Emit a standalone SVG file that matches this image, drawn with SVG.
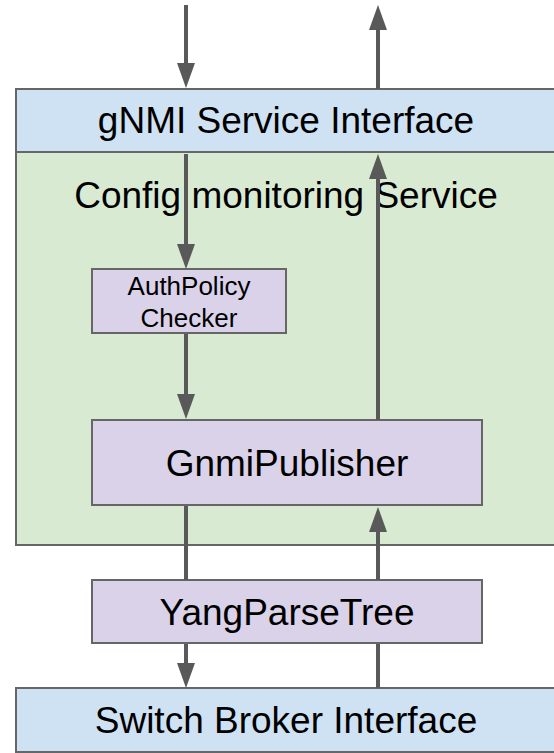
<svg xmlns="http://www.w3.org/2000/svg" width="554" height="753" viewBox="0 0 554 753">
  <style>
    .box { stroke: #666666; stroke-width: 2; }
    .blue { fill: #cfe2f3; }
    .green { fill: #d9ead3; }
    .purple { fill: #d9d2e9; }
    .lbl { font-family: "Liberation Sans", Arial, sans-serif; font-size: 37px; fill: #000000; text-anchor: middle; }
    .small { font-size: 26px; }
    .conn { stroke: #595959; stroke-width: 4; fill: none; }
    .arrow { marker-end: url(#ah); }
  </style>
  <defs>
    <marker id="ah" viewBox="0 0 25 18" markerWidth="25" markerHeight="18" refX="15" refY="9" orient="auto" markerUnits="userSpaceOnUse">
      <path d="M0,0 L25,9 L0,18 Z" fill="#595959"/>
    </marker>
  </defs>
  <rect width="554" height="753" fill="#ffffff"/>

  <g id="config-service">
    <rect class="box green" x="16" y="152" width="540" height="393"/>
    <text class="lbl" x="286" y="208">Config monitoring Service</text>
  </g>
  <g id="gnmi-interface">
    <rect class="box blue" x="16" y="89" width="540" height="63"/>
    <text class="lbl" x="286" y="133">gNMI Service Interface</text>
  </g>
  <g id="authpolicy-checker">
    <rect class="box purple" x="92" y="269" width="194" height="64"/>
    <text class="lbl small" x="189" y="295">AuthPolicy</text>
    <text class="lbl small" x="189" y="327">Checker</text>
  </g>
  <g id="gnmi-publisher">
    <rect class="box purple" x="92" y="420" width="390" height="85"/>
    <text class="lbl" x="287" y="476">GnmiPublisher</text>
  </g>
  <g id="yang-parse-tree">
    <rect class="box purple" x="92" y="580" width="390" height="63"/>
    <text class="lbl" x="287" y="625">YangParseTree</text>
  </g>
  <g id="switch-broker">
    <rect class="box blue" x="16" y="688" width="540" height="64"/>
    <text class="lbl" x="286" y="733">Switch Broker Interface</text>
  </g>

  <g id="connectors">
    <path class="conn arrow" d="M186,5 L186,78"/>
    <path class="conn arrow" d="M378,89 L378,15"/>
    <path class="conn arrow" d="M186,154 L186,259"/>
    <path class="conn arrow" d="M186,334 L186,409"/>
    <path class="conn arrow" d="M378,420 L378,164"/>
    <path class="conn" d="M186,506 L186,580"/>
    <path class="conn arrow" d="M378,580 L378,517"/>
    <path class="conn arrow" d="M186,644 L186,678"/>
    <path class="conn" d="M378,644 L378,688"/>
  </g>
</svg>
